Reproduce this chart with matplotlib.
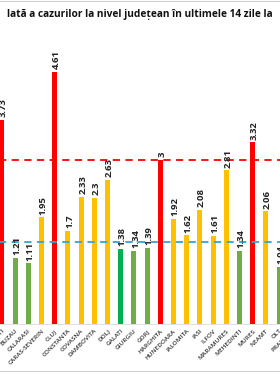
import matplotlib.pyplot as plt
from matplotlib.lines import Line2D

plt.rcParams['font.family'] = ['Open Sans', 'DejaVu Sans']

judete = ["BUCURESTI", "BUZAU", "CALARASI", "CARAS-SEVERIN", "CLUJ", "CONSTANTA",
          "COVASNA", "DAMBOVITA", "DOLJ", "GALATI", "GIURGIU", "GORJ", "HARGHITA",
          "HUNEDOARA", "IALOMITA", "IASI", "ILFOV", "MARAMURES", "MEHEDINTI",
          "MURES", "NEAMT", "OLT", "PRAHOVA"]
valori = [3.73, 1.21, 1.11, 1.95, 4.61, 1.7, 2.33, 2.3, 2.63, 1.38, 1.34, 1.39, 3,
          1.92, 1.62, 2.08, 1.61, 2.81, 1.34, 3.32, 2.06, 1.04, None]
culori = ["red", "green", "green", "yellow", "red", "yellow", "yellow", "yellow",
          "yellow", "dgreen", "green", "green", "red", "yellow", "yellow", "yellow",
          "yellow", "yellow", "green", "red", "yellow", "green", "yellow"]
prag_rosu = 3
prag_albastru = 1.5
titlu = "lată a cazurilor la nivel județean în ultimele 14 zile la"

paleta = {"red": "#FF0000", "green": "#70AD47", "yellow": "#FFC000", "dgreen": "#00B050"}

fig = plt.figure(figsize=(2.8, 3.76), dpi=100)
# axa e mai lata decat figura: imaginea de referinta e decupata stanga/dreapta
ax = fig.add_axes([(1.9 - 13.2) / 280, 52 / 376, 316.8 / 280, 273.5 / 376])

xs = [i for i, v in enumerate(valori) if v is not None]
vs = [v for v in valori if v is not None]
cs = [paleta[culori[i]] for i in xs]
ax.bar(xs, vs, width=0.38, color=cs, zorder=2)

for x, v in zip(xs, vs):
    ax.text(x + 0.12, v + 0.05, f"{v:g}", rotation=90, ha="center", va="bottom",
            fontsize=6.8, fontweight="bold", color="#222222", zorder=4)

ax.axhline(prag_rosu, color="#FF0000", lw=1.3, ls=(0, (4, 3)), zorder=3)
ax.axhline(prag_albastru, color="#2FA6D6", lw=1.3, ls=(0, (4, 3)), zorder=3)

ax.set_xlim(-1, 23)
ax.set_ylim(0, 5)
ax.set_xticks(range(len(judete)))
ax.set_xticklabels(judete, rotation=45, ha="right", rotation_mode="anchor",
                   fontsize=4.6, color="#333333", fontweight="semibold")
ax.tick_params(axis="x", length=0, pad=3)
ax.set_yticks([])
for s in ["left", "right", "top"]:
    ax.spines[s].set_visible(False)
ax.spines["bottom"].set_color("#D9D9D9")
ax.spines["bottom"].set_linewidth(0.6)

fig.text(0.5, 1 - 14 / 376, titlu, ha="center", va="center",
         fontsize=7.3, fontweight="bold", color="#111111")

# chenarul graficului
fig.add_artist(Line2D([0, 1], [0.998, 0.998], color="#D0D0D0", lw=0.8))
fig.add_artist(Line2D([0, 1], [5 / 376, 5 / 376], color="#D0D0D0", lw=0.8))

fig.savefig("out.png", dpi=100)
